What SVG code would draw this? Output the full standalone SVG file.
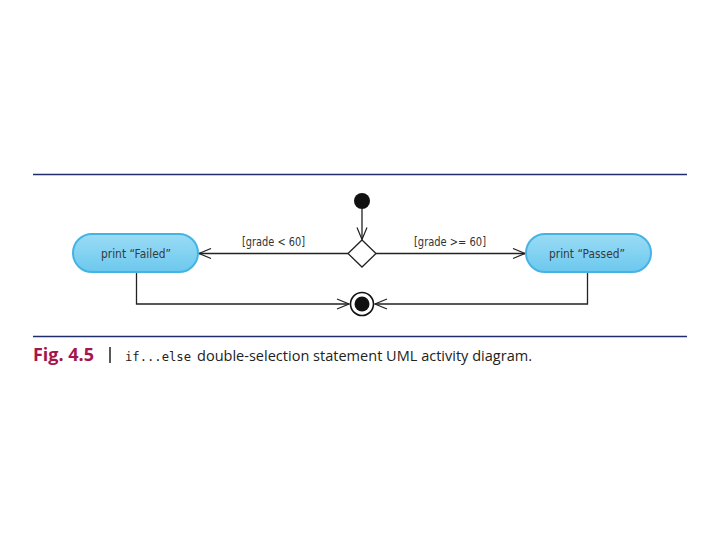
<svg xmlns="http://www.w3.org/2000/svg" width="720" height="540" viewBox="0 0 720 540">
<defs>
<linearGradient id="pill" x1="0" y1="0" x2="0" y2="1">
<stop offset="0" stop-color="#9adcf5"/>
<stop offset="1" stop-color="#6cc8ee"/>
</linearGradient>
<marker id="open" markerWidth="14" markerHeight="12" refX="13" refY="6" orient="auto" markerUnits="userSpaceOnUse">
<path d="M1,1 L13,6 L1,11" fill="none" stroke="#222" stroke-width="1.2"/>
</marker>
</defs>
<style>
.rule{stroke:#1f2d6b;stroke-width:1.3}
.edge{fill:none;stroke:#222;stroke-width:1.3}
.node{fill:url(#pill);stroke:#45b4e4;stroke-width:2}
.ntext{font-family:"DejaVu Sans Condensed","Liberation Sans",sans-serif;font-size:12px;fill:#3a3a3a}
.glabel{font-family:"DejaVu Sans Condensed","Liberation Sans",sans-serif;font-size:12px;fill:#333}
.cap{font-family:"Open Sans","Liberation Sans",sans-serif;font-size:14px;fill:#222}
</style>
<rect width="720" height="540" fill="#fff"/>
<line class="rule" x1="33" y1="174.5" x2="687" y2="174.5"/>
<line class="rule" x1="33" y1="336.5" x2="687" y2="336.5"/>
<g id="connectors">
<line class="edge" x1="362" y1="209" x2="362" y2="239.5" marker-end="url(#open)"/>
<line class="edge" x1="348" y1="253.5" x2="199" y2="253.5" marker-end="url(#open)"/>
<line class="edge" x1="376" y1="253.5" x2="525" y2="253.5" marker-end="url(#open)"/>
<polyline class="edge" points="136.5,273 136.5,304 349,304" marker-end="url(#open)"/>
<polyline class="edge" points="587.5,273 587.5,304 375,304" marker-end="url(#open)"/>
<text class="glabel" x="242" y="246" textLength="63" lengthAdjust="spacingAndGlyphs">[grade &lt; 60]</text>
<text class="glabel" x="414" y="246" textLength="72" lengthAdjust="spacingAndGlyphs">[grade &gt;= 60]</text>
</g>
<g id="start"><circle cx="362" cy="201" r="8" fill="#111"/></g>
<g id="decision"><polygon points="362,240 376,253.5 362,267 348,253.5" fill="#fff" stroke="#222" stroke-width="1.3"/></g>
<g id="failed"><rect class="node" x="73" y="234" width="125" height="38" rx="19"/><text class="ntext" x="101" y="257.5" textLength="70" lengthAdjust="spacingAndGlyphs">print “Failed”</text></g>
<g id="passed"><rect class="node" x="526" y="234" width="125" height="38" rx="19"/><text class="ntext" x="549" y="257.5" textLength="76" lengthAdjust="spacingAndGlyphs">print “Passed”</text></g>
<g id="final"><circle cx="362" cy="304" r="11.5" fill="#fff" stroke="#111" stroke-width="1.6"/><circle cx="362" cy="304" r="7.5" fill="#111"/></g>
<g id="caption">
<text x="33" y="361" textLength="61" lengthAdjust="spacingAndGlyphs" style="font-family:'Open Sans','Liberation Sans',sans-serif;font-size:17px;font-weight:bold;fill:#a5154c">Fig. 4.5</text>
<line x1="110" y1="347" x2="110" y2="363" stroke="#222" stroke-width="1.5"/>
<text x="125" y="361" textLength="66" lengthAdjust="spacingAndGlyphs" style="font-family:'DejaVu Sans Mono','Liberation Mono',monospace;font-size:13px;fill:#222">if...else</text>
<text class="cap" x="197" y="361" textLength="335" lengthAdjust="spacingAndGlyphs">double-selection statement UML activity diagram.</text>
</g>
</svg>
